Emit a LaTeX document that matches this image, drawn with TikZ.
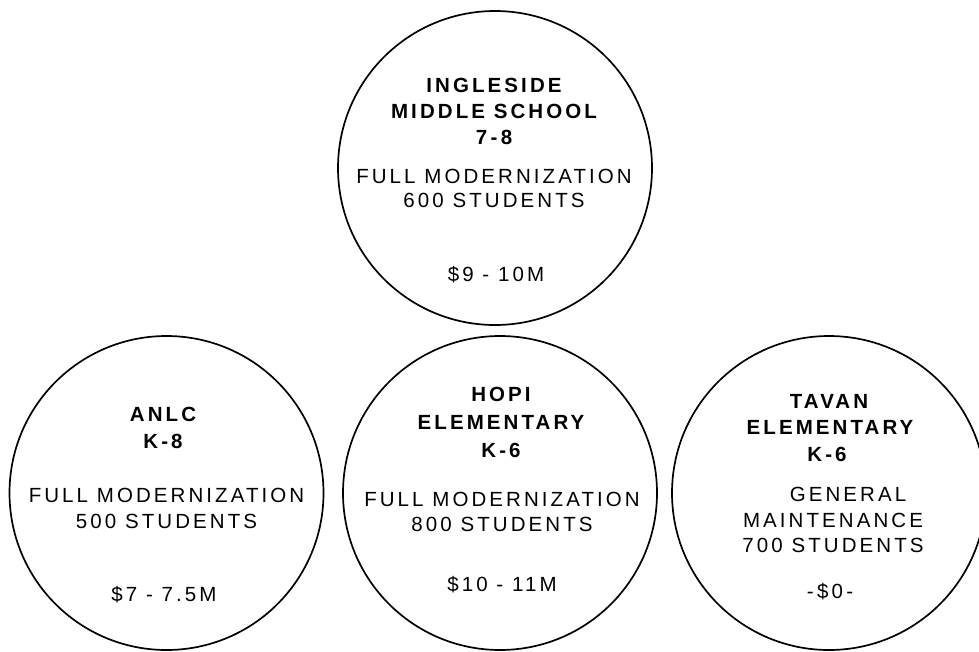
\documentclass[tikz,border=0pt]{standalone}
\usepackage{fontspec}
\setmainfont{Liberation Sans}
\newfontfamily\spaced[LetterSpace=15]{Liberation Sans}
\tikzset{
  school/.style={draw=black, line width=1.7pt, circle, minimum size=314pt, inner sep=0pt},
  ln/.style={inner sep=0pt, text height=14.7pt, text depth=0pt, anchor=center,
             font=\spaced\fontsize{20.5}{24}\selectfont},
  hd/.style={ln, font=\spaced\bfseries\fontsize{20.5}{24}\selectfont}
}
\begin{document}
\begin{tikzpicture}[x=1pt,y=-1pt]
\useasboundingbox (0,0) rectangle (979,651);
% circles
\node[school] (ingle) at (495,168) {};
\node[school] (anlc)  at (166.5,493) {};
\node[school] (hopi)  at (500,493) {};
\node[school] (tavan) at (829,493) {};
% Ingleside
\node[hd] (ingleA) at (494,85)    {INGLESIDE};
\node[hd] (ingleB) at (494,111.5) {MIDDLE SCHOOL};
\node[hd] (ingleC) at (494,137)   {7\,-\,8};
\node[ln] (ingleD) at (494,176)   {FULL MODERNIZATION};
\node[ln] (ingleE) at (494,200)   {600 STUDENTS};
\node[ln] (ingleF) at (496,273.7) {\$9 - 10M};
% ANLC
\node[hd] (anlcA) at (163,414.5) {ANLC};
\node[hd] (anlcB) at (163,441.5) {K-8};
\node[ln] (anlcC) at (166.5,495) {FULL MODERNIZATION};
\node[ln] (anlcD) at (166.5,521.5) {500 STUDENTS};
\node[ln] (anlcE) at (164,594.5) {\$7 - 7.5M};
% Hopi
\node[hd] (hopiA) at (501,394.5) {HOPI};
\node[hd] (hopiB) at (501,422.5) {ELEMENTARY};
\node[hd] (hopiC) at (501,450)   {K-6};
\node[ln] (hopiD) at (502,499.5) {FULL MODERNIZATION};
\node[ln] (hopiE) at (502,524.5) {800 STUDENTS};
\node[ln] (hopiF) at (502,584.5) {\$10 - 11M};
% Tavan
\node[hd] (tavanA) at (829,401)   {TAVAN};
\node[hd] (tavanB) at (830,427.5) {ELEMENTARY};
\node[hd] (tavanC) at (827,454.5) {K-6};
\node[ln] (tavanD) at (848,494.5) {GENERAL};
\node[ln] (tavanE) at (833,520.5) {MAINTENANCE};
\node[ln] (tavanF) at (833,545.5) {700 STUDENTS};
\node[ln] (tavanG) at (830,591.5) {-\,\$0\,-};
\end{tikzpicture}
\end{document}
